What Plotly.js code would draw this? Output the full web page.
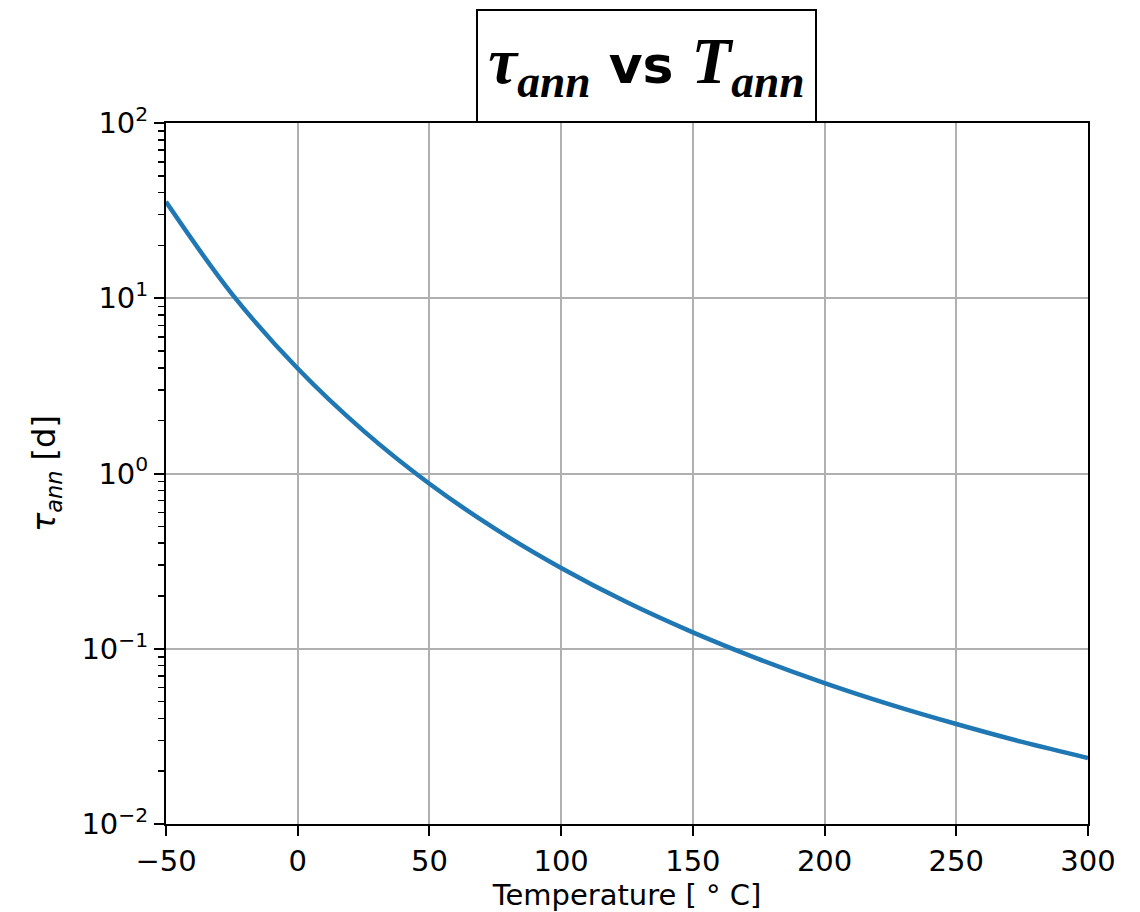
<!DOCTYPE html>
<html>
<head>
<meta charset="utf-8">
<script src="https://cdn.plot.ly/plotly-3.0.1.min.js"></script>
<style>html,body{margin:0;padding:0;background:#fff;}</style>
</head>
<body>
<div id="chart" style="width:1140px;height:912px;"></div>
<script>
// Temperature [°C]
const temperature = [-50, -25, 0, 25, 50, 75, 100, 125, 150, 175, 200, 225, 250, 275, 300];
// annealing time constant tau_ann [d]
const tauAnn = [35.5, 10.6, 3.97, 1.75, 0.874, 0.483, 0.289, 0.184, 0.124, 0.0873, 0.0637, 0.0480, 0.0372, 0.0294, 0.0238];

const xTicks = [-50, 0, 50, 100, 150, 200, 250, 300];
const yDecades = [-2, -1, 0, 1, 2];
const yTickVals = yDecades.map(p => Math.pow(10, p));
const yTickText = yDecades.map(p => '10<sup>' + (p < 0 ? '\u2212' : '') + Math.abs(p) + '</sup>');
const yMinor = [];
yDecades.slice(0, -1).forEach(p => { for (let m = 2; m <= 9; m++) yMinor.push(m * Math.pow(10, p)); });

const FONT = 'DejaVu Sans, sans-serif';

const trace = {
  x: temperature, y: tauAnn, type: 'scatter', mode: 'lines',
  line: {color: '#1f77b4', width: 4.5, shape: 'spline', smoothing: 1.0},
  hoverinfo: 'x+y'
};

const layout = {
  width: 1140, height: 912,
  margin: {l: 166, r: 52, t: 123, b: 88},
  paper_bgcolor: '#fff', plot_bgcolor: '#fff',
  showlegend: false,
  font: {family: FONT, size: 29, color: '#000'},
  xaxis: {
    range: [-50, 300], tickmode: 'array', tickvals: xTicks,
    ticks: 'outside', ticklen: 10, tickwidth: 2, tickcolor: '#000',
    showline: true, mirror: true, linecolor: '#000', linewidth: 2,
    showgrid: true, gridcolor: '#b0b0b0', gridwidth: 2, zeroline: false,
    tickfont: {family: FONT, size: 29},
    title: {text: 'Temperature [ \u00b0 C]', font: {family: FONT, size: 29}, standoff: 10}
  },
  yaxis: {
    type: 'log', range: [-2, 2], tickmode: 'array', tickvals: yTickVals, ticktext: yTickText,
    ticks: 'outside', ticklen: 10, tickwidth: 2, tickcolor: '#000',
    showline: true, mirror: true, linecolor: '#000', linewidth: 2,
    showgrid: true, gridcolor: '#b0b0b0', gridwidth: 2, zeroline: false,
    tickfont: {family: FONT, size: 29},
    minor: {tickmode: 'array', tickvals: yMinor, ticks: 'outside', ticklen: 6, tickwidth: 1.5, tickcolor: '#000', showgrid: false},
    title: {text: '<i>\u03c4</i><sub><i>ann</i></sub> [d]', font: {family: FONT, size: 32}, standoff: 16}
  },
  annotations: [{
    xref: 'paper', yref: 'paper', x: 0.521, y: 1.0813, xanchor: 'center', yanchor: 'middle',
    showarrow: false,
    text: '<span style="font-family:Liberation Serif;font-size:65px"><b><i>\u03c4<sub>ann</sub></i></b></span>' +
          '<span style="font-size:52px"><b> vs </b></span>' +
          '<span style="font-family:Liberation Serif;font-size:65px"><b><i>T<sub>ann</sub></i></b></span>',
    font: {family: 'DejaVu Sans, sans-serif', size: 60, color: '#000'},
    bordercolor: '#000', borderwidth: 2, borderpad: 4, bgcolor: '#fff',
    width: 329, height: 102
  }]
};

Plotly.newPlot('chart', [trace], layout, {displayModeBar: false, staticPlot: true});
</script>
</body>
</html>
